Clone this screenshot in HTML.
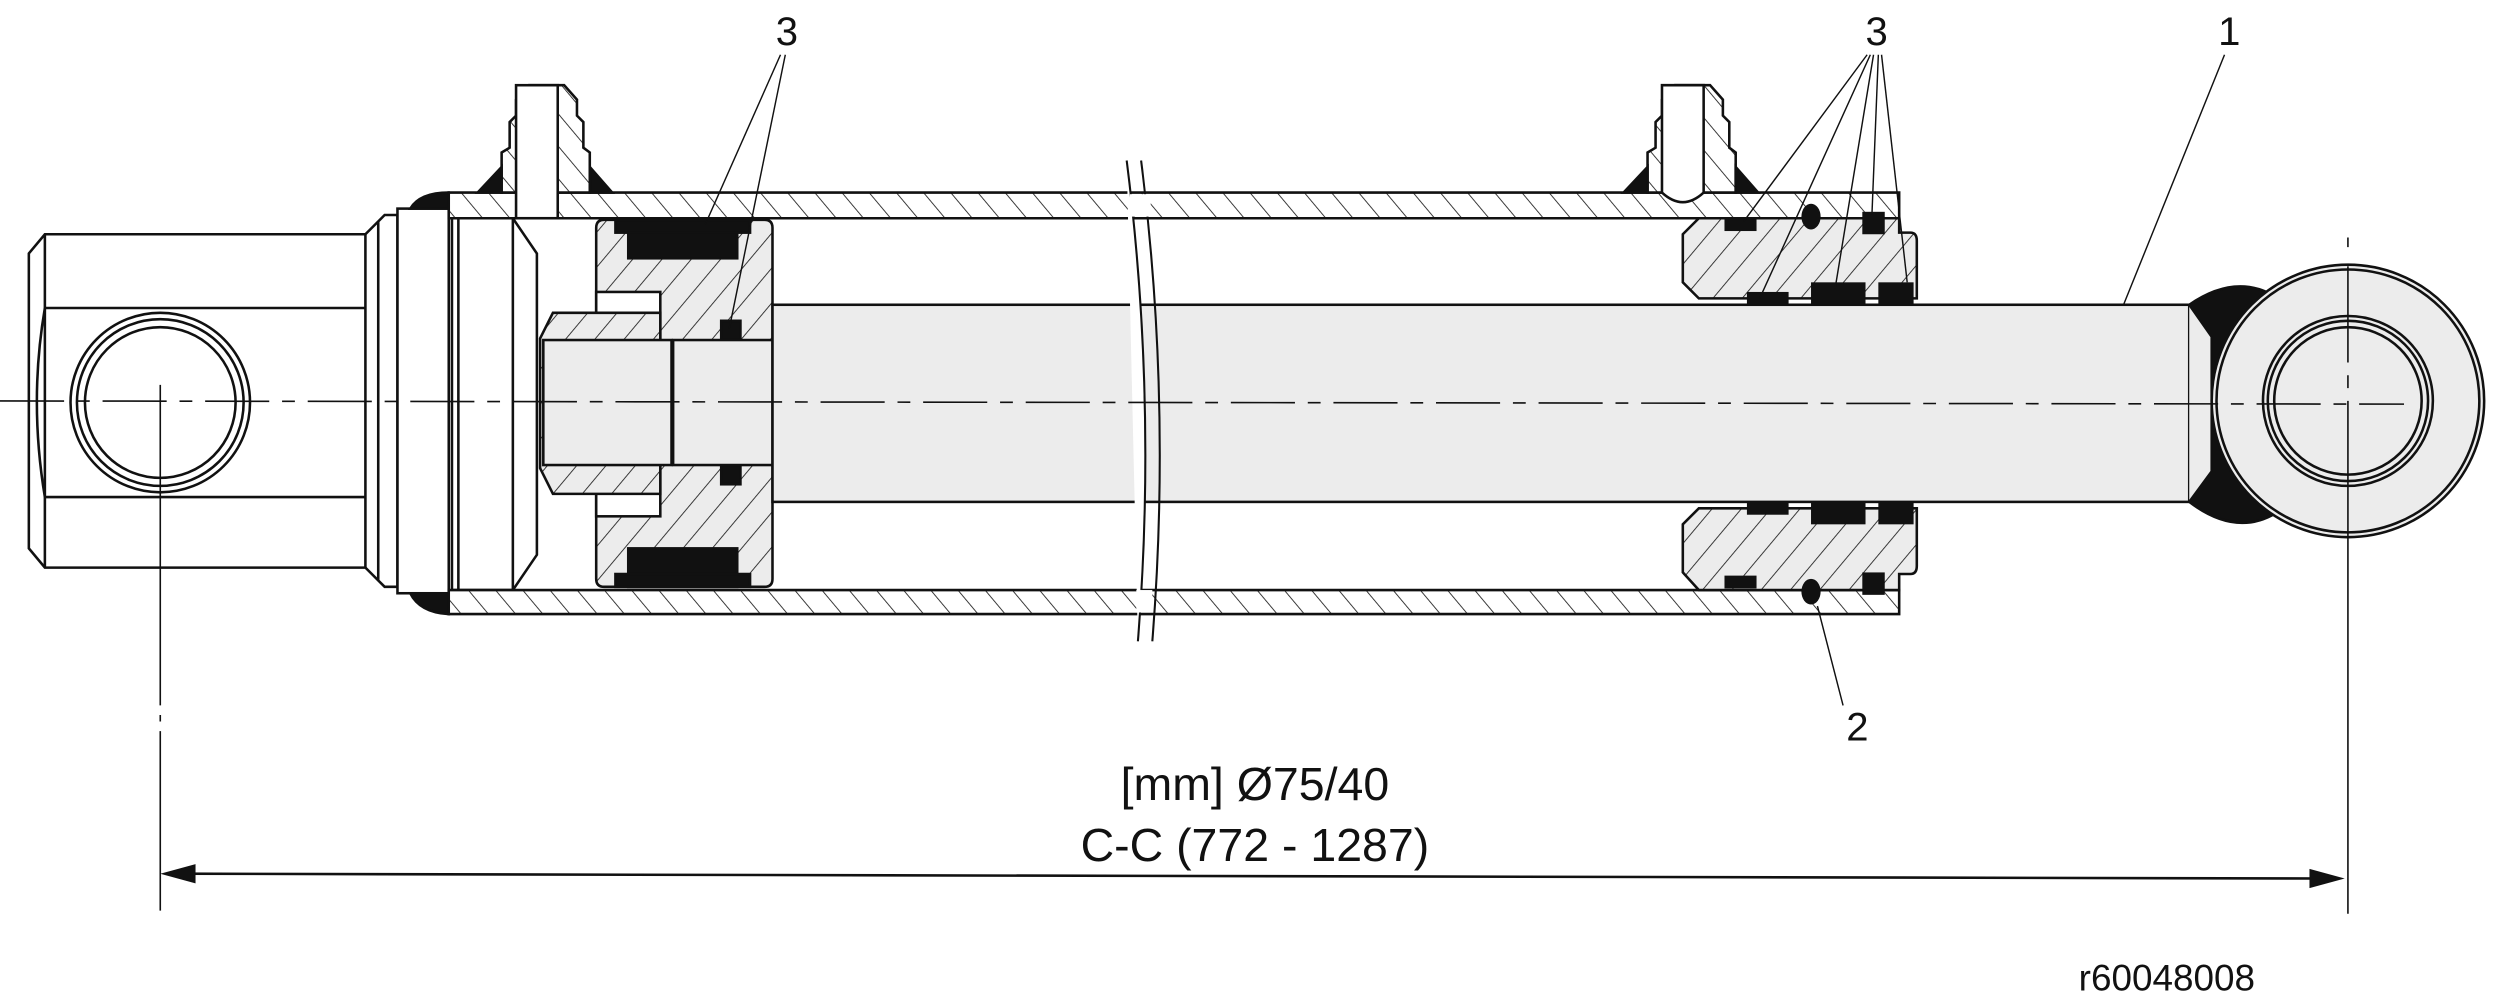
<!DOCTYPE html>
<html><head><meta charset="utf-8"><style>
html,body{margin:0;padding:0;background:#fff;width:2513px;height:1007px;overflow:hidden}
svg{display:block}
text{font-family:"Liberation Sans",Arial,sans-serif;fill:#111}
</style></head><body>
<svg width="2513" height="1007" viewBox="0 0 1568 628" xmlns="http://www.w3.org/2000/svg">
<defs>
<pattern id="h" patternUnits="userSpaceOnUse" width="14" height="14" patternTransform="rotate(40)">
<rect width="14" height="14" fill="#ececec"/><line x1="0" y1="0" x2="0" y2="14" stroke="#222" stroke-width="1.1"/></pattern>
<pattern id="ht" patternUnits="userSpaceOnUse" width="13" height="13" patternTransform="rotate(-40)">
<rect width="13" height="13" fill="#fff"/><line x1="0" y1="0" x2="0" y2="13" stroke="#222" stroke-width="1.1"/></pattern>
</defs>
<g stroke="#111" stroke-width="1.6" fill="none">
<path d="M28,146 H228 L240,134 H248 V366 H240 L228,354 H28 L18,342 V158 Z" fill="#fff"/>
<line x1="28" y1="146" x2="28" y2="354"/>
<line x1="28" y1="192" x2="228" y2="192"/><line x1="28" y1="310" x2="228" y2="310"/>
<path d="M28,192 Q18,250 28,310"/>
<line x1="228" y1="146" x2="228" y2="354"/><line x1="236" y1="138" x2="236" y2="362"/>
<circle cx="100" cy="251" r="56"/><circle cx="100" cy="251" r="52"/><circle cx="100" cy="251" r="47"/>
<rect x="248" y="130" width="32" height="240" fill="#fff"/>
<path d="M256,130 Q262,120 280,120 V130 Z M256,370 Q262,382 280,383 V370 Z" fill="#111"/>
<path d="M282,136 H320 L335,158 V346 L320,368 H282 Z" fill="#fff"/>
<line x1="286" y1="136" x2="286" y2="368"/><line x1="320" y1="136" x2="320" y2="368"/>
<path d="M280,120 H1185 V136 H280 Z" fill="url(#ht)"/>
<path d="M280,368 H1185 V383 H280 Z" fill="url(#ht)"/>
<path d="M313,120 V95 L318,92 V76 L322,72 V62 L330,53 H352 L360,62 V72 L364,76 V92 L368,95 V120 Z" fill="url(#ht)"/>
<rect x="322" y="53" width="26" height="83" fill="#fff"/>
<path d="M298,120 L313,104 V120 Z M368,104 L382,120 H368 Z" fill="#111"/>
<path d="M1028,120 V95 L1033,92 V76 L1037,72 V62 L1045,53 H1067 L1075,62 V72 L1079,76 V92 L1083,95 V120 Z" fill="url(#ht)"/>
<path d="M1037,53 H1063 V120 Q1050,132 1037,120 Z" fill="#fff"/>
<path d="M1013,120 L1028,104 V120 Z M1083,104 L1097,120 H1083 Z" fill="#111"/>
<path d="M377,137 H477 Q482,137 482,142 V361 Q482,366 477,366 H377 Q372,366 372,361 V142 Q372,137 377,137 Z" fill="url(#h)"/>
<rect x="392" y="137" width="68" height="24" fill="#111"/><rect x="384" y="137" width="84" height="8" fill="#111"/>
<rect x="392" y="342" width="68" height="24" fill="#111"/><rect x="384" y="358" width="84" height="8" fill="#111"/>
<rect x="450" y="200" width="12" height="12" fill="#111"/><rect x="450" y="290" width="12" height="12" fill="#111"/>
<rect x="372" y="182" width="40" height="140" fill="#fff"/>
<path d="M345,195 H412 V308 H345 L337,292 V211 Z" fill="url(#h)"/>
<rect x="339" y="212" width="80" height="78" fill="#ececec"/>
<rect x="420" y="212" width="62" height="78" fill="#ececec"/>
<rect x="482" y="190" width="884" height="123" fill="#ececec"/>
<path d="M1060,136 H1185 V145 H1192 Q1196,145 1196,150 V186 H1060 L1050,176 V146 Z" fill="url(#h)"/>
<path d="M1060,368 H1185 V358 H1192 Q1196,358 1196,353 V317 H1060 L1050,327 V357 Z" fill="url(#h)"/>
<g fill="#111" stroke="none">
<rect x="1076" y="136" width="20" height="8"/><rect x="1090" y="182" width="26" height="8"/>
<rect x="1130" y="176" width="34" height="14"/><rect x="1172" y="176" width="22" height="14"/>
<ellipse cx="1130" cy="135" rx="6" ry="8"/><rect x="1162" y="132" width="14" height="14"/>
<rect x="1076" y="359" width="20" height="8"/><rect x="1090" y="313" width="26" height="8"/>
<rect x="1130" y="313" width="34" height="14"/><rect x="1172" y="313" width="22" height="14"/>
<ellipse cx="1130" cy="369" rx="6" ry="8"/><rect x="1162" y="357" width="14" height="14"/>
</g>
<path d="M1366,190 Q1395,170 1420,185 V320 Q1395,335 1366,313 Z" fill="#111"/>
<path d="M1366,190 L1380,210 V294 L1366,313" fill="#ececec"/>
<circle cx="1465" cy="250" r="85" fill="#ececec"/><circle cx="1465" cy="250" r="82"/>
<circle cx="1465" cy="250" r="53"/><circle cx="1465" cy="250" r="50"/><circle cx="1465" cy="250" r="46"/>
<path d="M703,100 Q722,250 710,400" stroke-width="1.3" fill="#fff"/>
<path d="M712,100 Q731,250 719,400" stroke-width="1.3"/>
</g>
<rect x="705" y="121" width="13" height="14" fill="#fff"/><rect x="709" y="368" width="10" height="14" fill="#fff"/>
<g stroke="#111" stroke-width="1" fill="none">
<line x1="0" y1="250" x2="1500" y2="252" stroke-dasharray="40,8,8,8"/>
<line x1="100" y1="240" x2="100" y2="568" stroke-dasharray="200,6,4,6"/>
<line x1="1465" y1="148" x2="1465" y2="570" stroke-dasharray="6,12,60,8,8,8,400"/>
<line x1="112" y1="545" x2="1450" y2="548" stroke-width="1.6"/>
</g>
<path d="M100,545 L122,539 L122,551 Z" fill="#111"/>
<path d="M1463,548 L1441,542 L1441,554 Z" fill="#111"/>
<g stroke="#111" stroke-width="0.9">
<line x1="487" y1="34" x2="440" y2="140"/><line x1="490" y1="34" x2="455" y2="205"/>
<line x1="1165" y1="34" x2="1088" y2="138"/><line x1="1167" y1="34" x2="1098" y2="186"/>
<line x1="1169" y1="34" x2="1145" y2="180"/><line x1="1172" y1="34" x2="1168" y2="134"/>
<line x1="1174" y1="34" x2="1190" y2="176"/>
<line x1="1388" y1="34" x2="1325" y2="190"/>
<line x1="1150" y1="440" x2="1134" y2="378"/>
</g>
<text x="484" y="28" font-size="25">3</text>
<text x="1164" y="28" font-size="25">3</text>
<text x="1384" y="28" font-size="25">1</text>
<text x="1152" y="462" font-size="25">2</text>
<text x="783" y="499" font-size="29" text-anchor="middle">[mm] Ø75/40</text>
<text x="783" y="537" font-size="29" text-anchor="middle">C-C (772 - 1287)</text>
<text x="1297" y="618" font-size="23">r60048008</text>
</svg>
</body></html>
